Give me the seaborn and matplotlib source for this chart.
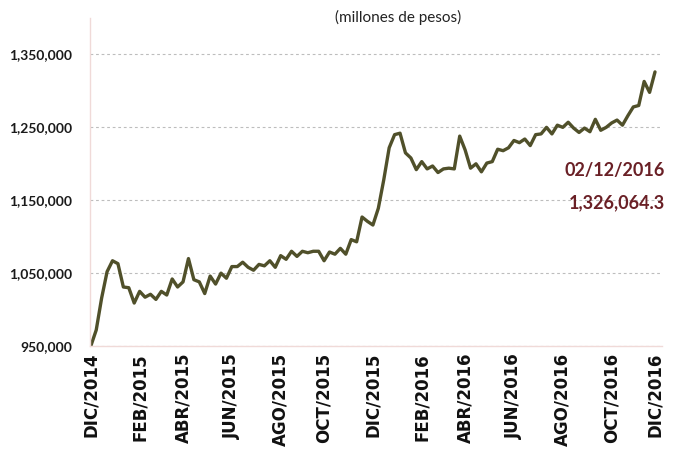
import matplotlib
matplotlib.use("Agg")
import matplotlib.pyplot as plt
import seaborn as sns
import pandas as pd
import numpy as np

# ---- data ----
start_date = "2014-12-05"
values = [
    950000, 972000, 1016000, 1052000, 1067000, 1063000, 1031000, 1030000, 1009000, 1025000,
    1017000, 1021000, 1014000, 1025000, 1020000, 1042000, 1031000, 1038000, 1070000, 1041000,
    1038000, 1022000, 1046000, 1035000, 1050000, 1043000, 1059000, 1059000, 1065000, 1058000,
    1054000, 1062000, 1060000, 1067000, 1058000, 1074000, 1069000, 1080000, 1073000, 1080000,
    1078000, 1080000, 1080000, 1067000, 1079000, 1076000, 1084000, 1076000, 1096000, 1093000,
    1127000, 1121000, 1116000, 1139000, 1178000, 1222000, 1240000, 1242000, 1215000, 1208000,
    1192000, 1203000, 1193000, 1197000, 1188000, 1193000, 1194000, 1193000, 1238000, 1219000,
    1194000, 1200000, 1189000, 1201000, 1203000, 1220000, 1218000, 1222000, 1232000, 1229000,
    1234000, 1225000, 1240000, 1241000, 1250000, 1241000, 1253000, 1250000, 1257000, 1249000,
    1243000, 1249000, 1244000, 1261000, 1246000, 1250000, 1256000, 1260000, 1253000, 1266000,
    1278000, 1280000, 1313000, 1298000, 1326064.3,
]
tick_months = ["2014-12", "2015-02", "2015-04", "2015-06", "2015-08", "2015-10",
               "2015-12", "2016-02", "2016-04", "2016-06", "2016-08", "2016-10", "2016-12"]
tick_labels = ["DIC/2014", "FEB/2015", "ABR/2015", "JUN/2015", "AGO/2015", "OCT/2015",
               "DIC/2015", "FEB/2016", "ABR/2016", "JUN/2016", "AGO/2016", "OCT/2016", "DIC/2016"]
y_ticks = [950000, 1050000, 1150000, 1250000, 1350000]
title_text = "(millones de pesos)"
annot_date = "02/12/2016"
annot_value = "1,326,064.3"

dates = pd.date_range(start_date, periods=len(values), freq="7D")
df = pd.DataFrame({"fecha": dates, "saldo": values})

sns.set_style("white")
plt.rcParams["font.family"] = ["Lato", "DejaVu Sans"]

fig = plt.figure(figsize=(6.8, 4.62), dpi=100)
ax = fig.add_axes([0.1324, 0.251, 0.8411, 0.71])

sns.lineplot(data=df, x="fecha", y="saldo", ax=ax, color="#50502A", linewidth=2.4)

ax.set_ylim(950000, 1400000)
ax.set_xlim(dates[0] - pd.Timedelta(days=1), dates[-1] + pd.Timedelta(days=9))

ax.set_yticks(y_ticks)
ax.set_yticklabels([f"{v:,.0f}" for v in y_ticks], fontsize=10, fontweight="bold", color="#1a1a1a")

tick_pos = []
for m in tick_months:
    sel = df.loc[df["fecha"].dt.strftime("%Y-%m") == m, "fecha"]
    tick_pos.append(sel.iloc[0])
ax.set_xticks(tick_pos)
ax.set_xticklabels(tick_labels, rotation=90, fontsize=12, fontweight="bold",
                   family="DejaVu Sans", color="#111111", va="top", ha="center")

ax.tick_params(axis="y", length=0, pad=13)
ax.tick_params(axis="x", length=0, pad=5)
ax.set_xlabel("")
ax.set_ylabel("")

ax.yaxis.grid(True, linestyle=(0, (2.5, 2.5)), color="#BDBDBD", linewidth=0.8)
ax.xaxis.grid(False)
for s in ["top", "right"]:
    ax.spines[s].set_visible(False)
for s in ["left", "bottom"]:
    ax.spines[s].set_color("#F0DAD8")
    ax.spines[s].set_linewidth(1.0)
ax.set_axisbelow(True)

fig.text(0.585, 0.962, title_text, ha="center", va="center", fontsize=11, color="#222222")
fig.text(0.978, 0.632, annot_date, ha="right", va="center", fontsize=13, fontweight="bold", color="#6A2026")
fig.text(0.978, 0.562, annot_value, ha="right", va="center", fontsize=13, fontweight="bold", color="#6A2026")

fig.savefig("out.png", dpi=100)
